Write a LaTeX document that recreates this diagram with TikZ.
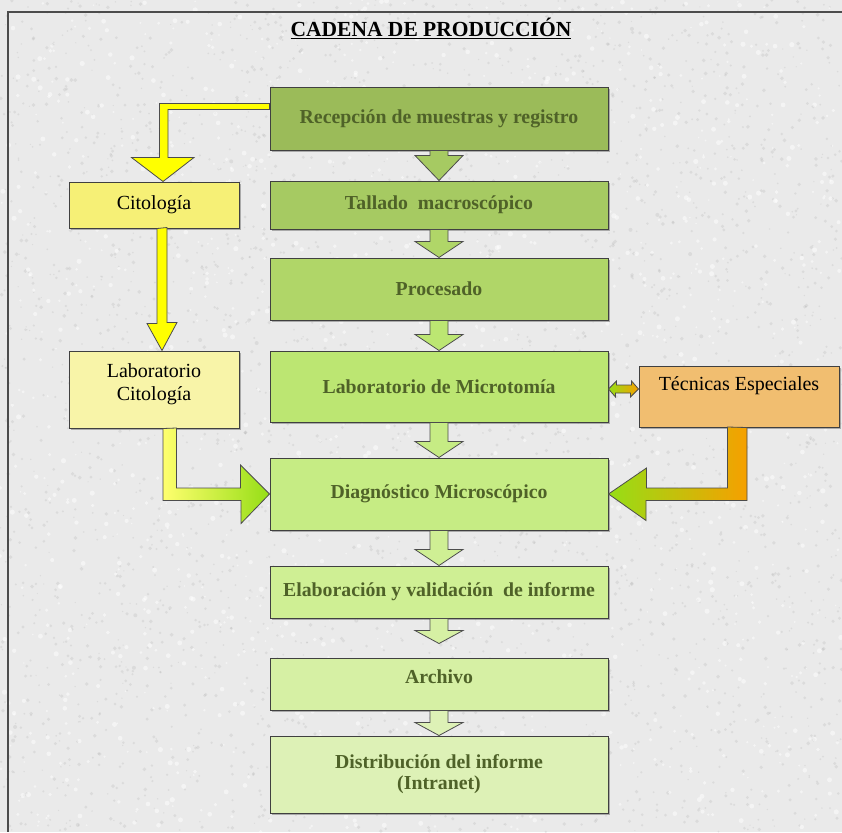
\documentclass[tikz,border=0pt]{standalone}
\usepackage{fontspec}
\setmainfont{Liberation Serif}
\usetikzlibrary{calc,shadows}

\definecolor{txtgreen}{RGB}{79,98,40}
\definecolor{bgray}{RGB}{234,234,234}
\definecolor{c1}{RGB}{155,187,89}
\definecolor{c2}{RGB}{166,202,98}
\definecolor{c3}{RGB}{176,214,104}
\definecolor{c4}{RGB}{188,230,114}
\definecolor{c5}{RGB}{198,236,132}
\definecolor{c6}{RGB}{207,239,148}
\definecolor{c7}{RGB}{214,240,164}
\definecolor{c8}{RGB}{221,241,182}
\definecolor{citofill}{RGB}{246,240,118}
\definecolor{labfill}{RGB}{248,244,168}
\definecolor{tecfill}{RGB}{241,190,112}
\definecolor{yelarr}{RGB}{255,255,0}
\definecolor{softyel}{RGB}{255,255,110}
\definecolor{arrgreen}{RGB}{150,222,22}
\definecolor{arrorange}{RGB}{246,160,0}

\tikzset{
  box/.style={draw=black!75, line width=1pt, inner sep=0pt, align=center,
    drop shadow={shadow xshift=1.5pt, shadow yshift=-1.5pt, fill=black!50, opacity=0.6}},
  stepbox/.style={box, minimum width=338pt, text=txtgreen,
    font=\fontsize{19.8}{21}\selectfont\bfseries},
  sidebox/.style={box, text=black, font=\fontsize{20}{23}\selectfont},
  fatarrow/.style={draw=black!70, line width=0.8pt, line join=miter},
}

\begin{document}
\begin{tikzpicture}[x=1pt,y=-1pt]
\useasboundingbox (0,0) rectangle (842,832);
% granite background
\fill[bgray] (0,0) rectangle (842,832);
\pgfmathsetseed{17}
\foreach \i in {1,...,3500} {
  \fill[black!35, opacity=0.22] ({rnd*842},{rnd*832}) circle ({0.6+rnd*1.4});
}
\foreach \i in {1,...,1500} {
  \fill[white, opacity=0.5] ({rnd*842},{rnd*832}) circle ({0.8+rnd*1.8});
}
\draw[black!70, line width=1.5pt] (842,12) -- (8,12) -- (8,832);

\node[font=\fontsize{21.5}{24}\selectfont\bfseries, anchor=base] (title) at (431,37) {\underline{CADENA DE PRODUCCIÓN}};

% main chain
\node[stepbox, fill=c1, minimum height=62pt] (rec) at (439,119) {Recepción de muestras y registro};
\node[stepbox, fill=c2, minimum height=48pt] (tal) at (439,205) {Tallado~ macroscópico};
\node[stepbox, fill=c3, minimum height=62pt] (pro) at (439,289) {Procesado};
\node[stepbox, fill=c4, minimum height=71pt] (mic) at (439,386.5) {Laboratorio de Microtomía};
\node[stepbox, fill=c5, minimum height=72pt] (dia) at (439,494) {Diagnóstico Microscópico};
\node[stepbox, fill=c6, minimum height=52pt] (ela) at (439,592) {Elaboración y validación~ de informe};
\node[stepbox, fill=c7, minimum height=52pt] (arc) at (439,684) {\raisebox{7pt}[\height][\depth]{Archivo}};
\node[stepbox, fill=c8, minimum height=77pt] (dis) at (439,774.5) {Distribución del informe\\(Intranet)};

% side boxes
\node[sidebox, fill=citofill, minimum width=170pt, minimum height=46pt] (cit) at (154,205) {Citología};
\node[sidebox, fill=labfill, minimum width=170pt, minimum height=77pt] (lab) at (154,389.5) {\raisebox{5pt}[\height][\depth]{Laboratorio}\\\raisebox{5pt}[\height][\depth]{Citología}};
\node[sidebox, fill=tecfill, minimum width=200pt, minimum height=61pt] (tec) at (739,396.5) {\raisebox{11pt}[\height][\depth]{Técnicas Especiales}};

% down arrows of the chain
\foreach \a/\b/\hh/\gap/\col in {rec/tal/25/0/c2, tal/pro/16/0/c3, pro/mic/16/0/c4, mic/dia/16/0/c5,
    dia/ela/16/0/c6, ela/arc/13/14/c7, arc/dis/13/0/c8} {
  \draw[fatarrow, fill=\col] ($(\a.south)+(-9,0)$) -- ($(\b.north)+(-9,{-\gap-\hh})$)
    -- ($(\b.north)+(-24,{-\gap-\hh})$) -- ($(\b.north)+(0,{-\gap})$)
    -- ($(\b.north)+(24,{-\gap-\hh})$) -- ($(\b.north)+(9,{-\gap-\hh})$)
    -- ($(\a.south)+(9,0)$) -- cycle;
}

% yellow branch
\coordinate (ytip) at ($(cit.north)+(9,0)$);
\draw[fatarrow, fill=yelarr] ($(rec.north west)+(0,16)$) -- ++(-110,0) -- ++(0,54) -- ++(-28,0)
  -- (ytip) -- ++(31,-24) -- ++(-26,0) -- ++(0,-48) -- ($(rec.north west)+(0,22)$) -- cycle;
\draw[fatarrow, fill=yelarr] ($(cit.south)+(3,0)$) -- ++(0,95) -- ++(-10,0) -- ($(lab.north)+(8,0)$)
  -- ++(15,-28) -- ++(-10,0) -- ++(0,-95) -- cycle;
\draw[fatarrow, left color=softyel, right color=arrgreen] ($(lab.south)+(9,0)$) -- ++(0,72) -- ++(78,0)
  -- ++(0,23) -- (dia.west) -- ++(-29,-29) -- ++(0,23) -- ++(-64,0) -- ++(0,-60) -- cycle;

% orange branch
\draw[fatarrow, left color=arrgreen, right color=arrorange] ($(tec.south)+(8,0)$) -- ++(0,73) -- ++(-101,0)
  -- ++(0,20) -- (dia.east) -- ++(38,-26) -- ++(0,20) -- ++(81,0) -- ++(0,-61) -- cycle;
\coordinate (dl) at ($(mic.east)+(0,2.5)$);
\coordinate (dr) at (tec.west |- dl);
\draw[fatarrow, left color=arrgreen, right color=arrorange] (dl) -- ++(8,-8) -- ++(0,4) -- ++(15,0)
  -- ++(0,-4) -- (dr) -- ++(-8,8) -- ++(0,-4) -- ++(-15,0) -- ++(0,4) -- cycle;
\end{tikzpicture}
\end{document}
